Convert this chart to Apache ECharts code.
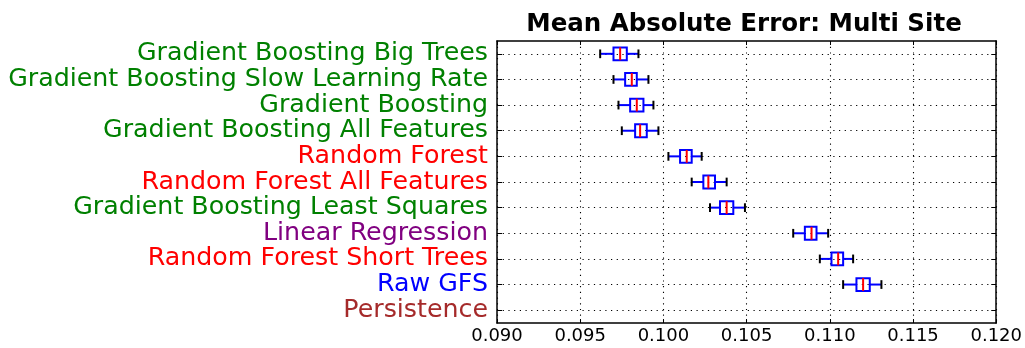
<!DOCTYPE html>
<html>
<head>
<meta charset="utf-8">
<script src="https://cdn.jsdelivr.net/npm/echarts@6/dist/echarts.min.js"></script>
<style>
  html, body { margin: 0; padding: 0; background: #fff; }
  #chart { width: 1025px; height: 348px; }
</style>
</head>
<body>
<div id="chart"></div>
<script>
// Model names, top to bottom
const categories = [
  'Gradient Boosting Big Trees',
  'Gradient Boosting Slow Learning Rate',
  'Gradient Boosting',
  'Gradient Boosting All Features',
  'Random Forest',
  'Random Forest All Features',
  'Gradient Boosting Least Squares',
  'Linear Regression',
  'Random Forest Short Trees',
  'Raw GFS',
  'Persistence'
];
// Label colour per model family
const labelColors = [
  '#008000', '#008000', '#008000', '#008000', '#ff0000', '#ff0000',
  '#008000', '#800080', '#ff0000', '#0000ff', '#a52a2a'
];
// Box statistics of the mean absolute error (Persistence falls off the axis range)
const whiskerLow  = [0.0962, 0.0970, 0.0973, 0.0975, 0.1003, 0.1017, 0.1028, 0.1078, 0.1094, 0.1108, null];
const quartile1   = [0.0970, 0.0977, 0.0980, 0.0983, 0.1010, 0.1024, 0.1034, 0.1085, 0.1101, 0.1116, null];
const medians     = [0.0974, 0.0981, 0.0984, 0.0986, 0.1014, 0.1027, 0.1038, 0.1089, 0.1105, 0.1120, null];
const quartile3   = [0.0978, 0.0984, 0.0988, 0.0990, 0.1017, 0.1031, 0.1042, 0.1092, 0.1108, 0.1124, null];
const whiskerHigh = [0.0985, 0.0991, 0.0994, 0.0997, 0.1023, 0.1038, 0.1049, 0.1099, 0.1114, 0.1131, null];
// X axis range and ticks
const xMin = 0.090, xMax = 0.120, xStep = 0.005;

const font = 'DejaVu Sans';

const boxData = [];
categories.forEach((c, i) => {
  if (medians[i] == null) return;
  boxData.push([i, whiskerLow[i], quartile1[i], medians[i], quartile3[i], whiskerHigh[i]]);
});

function renderBox(params, api) {
  const cat = api.value(0);
  const band = api.size([0, 1])[1];
  const hb = band * 0.25;   // half box height
  const hc = band * 0.17;   // half cap height
  const p = k => api.coord([api.value(k), cat]);
  const lo = p(1), q1 = p(2), md = p(3), q3 = p(4), hi = p(5);
  const y = md[1];
  const blue = { stroke: '#0000ff', lineWidth: 2, fill: null };
  return {
    type: 'group',
    children: [
      { type: 'line', shape: { x1: lo[0], y1: y, x2: q1[0], y2: y }, style: blue },
      { type: 'line', shape: { x1: q3[0], y1: y, x2: hi[0], y2: y }, style: blue },
      { type: 'line', shape: { x1: lo[0], y1: y - hc, x2: lo[0], y2: y + hc }, style: { stroke: '#000', lineWidth: 2 } },
      { type: 'line', shape: { x1: hi[0], y1: y - hc, x2: hi[0], y2: y + hc }, style: { stroke: '#000', lineWidth: 2 } },
      { type: 'rect', shape: { x: q1[0], y: y - hb, width: q3[0] - q1[0], height: 2 * hb }, style: blue },
      { type: 'line', shape: { x1: md[0], y1: y - hb, x2: md[0], y2: y + hb }, style: { stroke: '#ff0000', lineWidth: 2 } }
    ]
  };
}

const dotted = { color: '#000', width: 1.1, type: [1.2, 4.5] };
const frame = { show: true, lineStyle: { color: '#000', width: 1.5 } };
const innerTick = len => ({ show: true, inside: true, interval: 0, alignWithLabel: true, length: len, lineStyle: { color: '#000', width: 1 } });

const chart = echarts.init(document.getElementById('chart'), null, { renderer: 'canvas' });
chart.setOption({
  animation: false,
  backgroundColor: '#fff',
  title: {
    text: 'Mean Absolute Error: Multi Site',
    left: 739, top: 7, textAlign: 'center',
    textStyle: { fontFamily: font, fontWeight: 'bold', fontSize: 24.5, color: '#000' }
  },
  grid: { left: 497, right: 27, top: 41, bottom: 25, containLabel: false },
  xAxis: [
    {
      type: 'value', min: xMin, max: xMax, interval: xStep,
      axisLine: frame,
      axisTick: innerTick(4),
      axisLabel: { fontFamily: font, fontSize: 18, color: '#000', margin: 4, formatter: v => v.toFixed(3) },
      splitLine: { show: true, lineStyle: dotted }
    },
    {
      type: 'value', position: 'top', min: xMin, max: xMax, interval: xStep,
      axisLine: frame,
      axisTick: innerTick(4),
      axisLabel: { show: false }, splitLine: { show: false }
    }
  ],
  yAxis: [
    {
      type: 'category', data: categories, inverse: true,
      axisLine: frame,
      axisTick: innerTick(5),
      axisLabel: {
        fontFamily: font, fontSize: 25.3, margin: 9, interval: 0,
        color: v => labelColors[categories.indexOf(v)]
      },
      splitLine: { show: true, interval: 0, alignWithLabel: true, lineStyle: dotted }
    },
    {
      type: 'category', data: categories, inverse: true, position: 'right',
      axisLine: frame,
      axisTick: innerTick(5),
      axisLabel: { show: false }, splitLine: { show: false }
    }
  ],
  series: [{
    type: 'custom',
    xAxisIndex: 0, yAxisIndex: 0,
    renderItem: renderBox,
    encode: { x: [1, 2, 3, 4, 5], y: 0 },
    data: boxData,
    z: 5
  }]
});
</script>
</body>
</html>
